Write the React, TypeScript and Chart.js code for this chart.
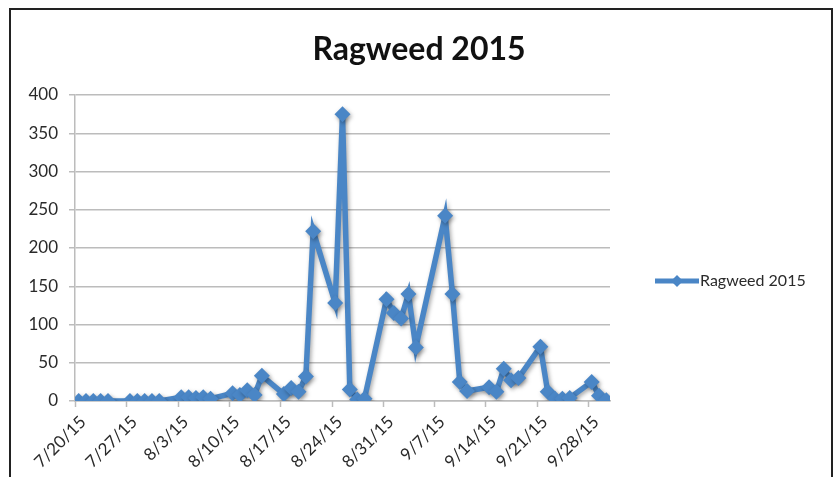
import React, { useEffect, useRef } from "react";
import { Chart, registerables } from "chart.js";

Chart.register(...registerables);

const seriesName = "Ragweed 2015";
const startDate = "2015-07-20";
const dates = [
  "2015-07-20", "2015-07-21", "2015-07-22", "2015-07-23", "2015-07-24",
  "2015-07-27", "2015-07-28", "2015-07-29", "2015-07-30", "2015-07-31",
  "2015-08-03", "2015-08-04", "2015-08-05", "2015-08-06", "2015-08-07",
  "2015-08-10", "2015-08-11", "2015-08-12", "2015-08-13", "2015-08-14",
  "2015-08-17", "2015-08-18", "2015-08-19", "2015-08-20", "2015-08-21",
  "2015-08-24", "2015-08-25", "2015-08-26", "2015-08-27", "2015-08-28",
  "2015-08-31", "2015-09-01", "2015-09-02", "2015-09-03", "2015-09-04",
  "2015-09-08", "2015-09-09", "2015-09-10", "2015-09-11",
  "2015-09-14", "2015-09-15", "2015-09-16", "2015-09-17", "2015-09-18",
  "2015-09-21", "2015-09-22", "2015-09-23", "2015-09-24", "2015-09-25",
  "2015-09-28", "2015-09-29", "2015-09-30",
];
const values = [
  0, 0, 0, 0, 0,
  0, 0, 0, 0, 0,
  5, 5, 4, 5, 3,
  10, 8, 14, 8, 33,
  9, 17, 12, 32, 222,
  128, 375, 15, 2, 3,
  133, 115, 108, 140, 70,
  242, 140, 25, 13,
  18, 12, 42, 27, 30,
  71, 12, 3, 3, 4,
  25, 7, 1,
];
const xTickLabels = [
  "7/20/15", "7/27/15", "8/3/15", "8/10/15", "8/17/15", "8/24/15",
  "8/31/15", "9/7/15", "9/14/15", "9/21/15", "9/28/15",
];
const yMin = 0;
const yMax = 400;
const yStep = 50;

const DAY = 86400000;
const dayIndex = (d: string) =>
  Math.round((Date.parse(d + "T00:00:00Z") - Date.parse(startDate + "T00:00:00Z")) / DAY);

const LINE_COLOR = "#4a86c6";
const GRID_COLOR = "#bcbcbc";
const TEXT_COLOR = "#2a2a2a";
const FONT = "Lato, 'Open Sans', sans-serif";

export default function App() {
  const ref = useRef<HTMLCanvasElement | null>(null);

  useEffect(() => {
    if (!ref.current) return;
    const points = dates.map((d, i) => ({ x: dayIndex(d), y: values[i] }));
    const lastDay = dayIndex(dates[dates.length - 1]);

    const framePlugin = {
      id: "frame",
      beforeDraw(chart: any) {
        const ctx = chart.ctx;
        ctx.save();
        ctx.fillStyle = "#ffffff";
        ctx.fillRect(0, 0, chart.width, chart.height);
        ctx.restore();
      },
      beforeDatasetsDraw(chart: any) {
        const ctx = chart.ctx;
        ctx.save();
        ctx.shadowColor = "rgba(0,0,0,0.35)";
        ctx.shadowBlur = 4;
        ctx.shadowOffsetX = 1.5;
        ctx.shadowOffsetY = 2;
      },
      afterDatasetsDraw(chart: any) {
        chart.ctx.restore();
      },
      afterDraw(chart: any) {
        const ctx = chart.ctx;
        const xs = chart.scales.x;
        ctx.save();
        // x-axis tick marks between days (Excel style)
        ctx.strokeStyle = GRID_COLOR;
        ctx.lineWidth = 1.5;
        for (let i = 0; i < xTickLabels.length; i++) {
          const px = Math.round(xs.getPixelForValue(i * 7 - 0.5)) + 0.5;
          ctx.beginPath();
          ctx.moveTo(px, xs.top);
          ctx.lineTo(px, xs.top + 6);
          ctx.stroke();
        }
        // legend
        const ly = 281;
        ctx.strokeStyle = LINE_COLOR;
        ctx.lineWidth = 5;
        ctx.beginPath();
        ctx.moveTo(655, ly);
        ctx.lineTo(699, ly);
        ctx.stroke();
        ctx.fillStyle = LINE_COLOR;
        ctx.beginPath();
        ctx.moveTo(677, ly - 6);
        ctx.lineTo(683, ly);
        ctx.lineTo(677, ly + 6);
        ctx.lineTo(671, ly);
        ctx.closePath();
        ctx.fill();
        ctx.fillStyle = TEXT_COLOR;
        ctx.font = "16px " + FONT;
        ctx.textBaseline = "middle";
        ctx.textAlign = "left";
        ctx.fillText(seriesName, 700, ly);
        // outer frame
        ctx.strokeStyle = "#222222";
        ctx.lineWidth = 2;
        ctx.strokeRect(10, 9, 822, 520);
        ctx.restore();
      },
    };

    const chart = new Chart(ref.current, {
      type: "line",
      data: {
        datasets: [
          {
            label: seriesName,
            data: points,
            borderColor: LINE_COLOR,
            backgroundColor: LINE_COLOR,
            borderWidth: 5.5,
            pointStyle: "rectRot",
            pointRadius: 8,
            pointBorderWidth: 0,
            pointBackgroundColor: LINE_COLOR,
            tension: 0,
          },
        ],
      },
      options: {
        responsive: false,
        animation: false,
        devicePixelRatio: 1,
        layout: { padding: { left: 0, right: 0, top: 0, bottom: 0 } },
        plugins: {
          legend: { display: false },
          tooltip: { enabled: false },
          title: {
            display: true,
            text: seriesName,
            color: "#111111",
            font: { family: FONT, size: 32, weight: "bold" },
            padding: { top: 30, bottom: 26.6 },
          },
        },
        scales: {
          x: {
            type: "linear",
            min: -0.5,
            max: lastDay + 0.5,
            afterBuildTicks: (scale: any) => {
              scale.ticks = xTickLabels.map((_, i) => ({ value: i * 7 + 0.6 }));
            },
            afterFit: (scale: any) => {
              scale.height = 76;
            },
            grid: { display: false, drawTicks: false },
            border: { display: true, color: GRID_COLOR, width: 1.5 },
            ticks: {
              autoSkip: false,
              minRotation: 45,
              maxRotation: 45,
              padding: 11,
              color: TEXT_COLOR,
              font: { family: FONT, size: 17 },
              callback: (_v: any, i: number) => xTickLabels[i],
            },
          },
          y: {
            min: yMin,
            max: yMax,
            afterFit: (scale: any) => {
              scale.width = 75;
            },
            grid: {
              color: GRID_COLOR,
              lineWidth: 1.5,
              drawTicks: true,
              tickLength: 6,
            },
            border: { display: true, color: GRID_COLOR, width: 1.5 },
            ticks: {
              stepSize: yStep,
              padding: 11,
              color: TEXT_COLOR,
              font: { family: FONT, size: 17 },
            },
          },
          legendSpace: {
            type: "linear",
            position: "right",
            display: true,
            afterFit: (scale: any) => {
              scale.width = 228;
            },
            grid: { display: false, drawTicks: false },
            border: { display: false },
            ticks: { display: false },
          },
        },
      },
      plugins: [framePlugin],
    } as any);

    return () => chart.destroy();
  }, []);

  return (
    <div style={{ position: "fixed", left: 0, top: 0, width: 838, height: 477 }}>
      <canvas ref={ref} width={838} height={477} style={{ width: 838, height: 477 }} />
    </div>
  );
}
